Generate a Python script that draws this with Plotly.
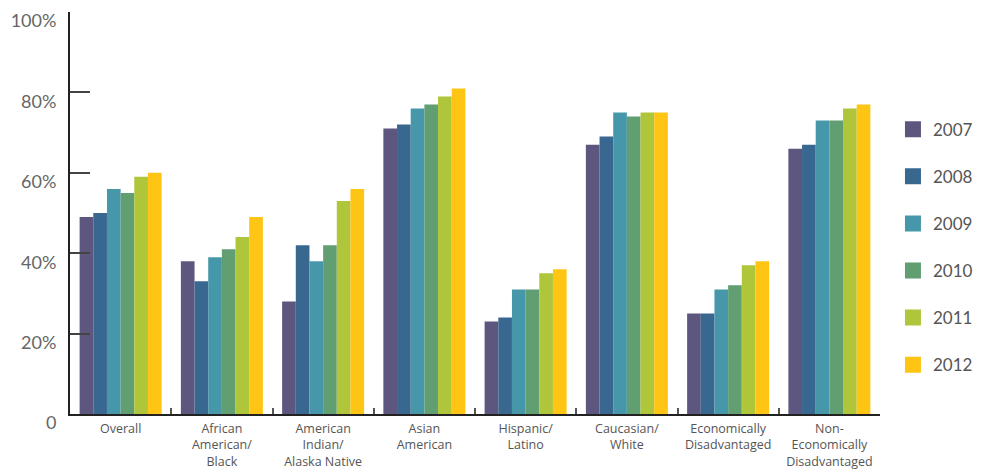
import plotly.graph_objects as go

categories = [
    "Overall",
    "African<br>American/<br>Black",
    "American<br>Indian/<br>Alaska Native",
    "Asian<br>American",
    "Hispanic/<br>Latino",
    "Caucasian/<br>White",
    "Economically<br>Disadvantaged",
    "Non-<br>Economically<br>Disadvantaged",
]

years = ["2007", "2008", "2009", "2010", "2011", "2012"]

v2007 = [49, 38, 28, 71, 23, 67, 25, 66]
v2008 = [50, 33, 42, 72, 24, 69, 25, 67]
v2009 = [56, 39, 38, 76, 31, 75, 31, 73]
v2010 = [55, 41, 42, 77, 31, 74, 32, 73]
v2011 = [59, 44, 53, 79, 35, 75, 37, 76]
v2012 = [60, 49, 56, 81, 36, 75, 38, 77]

series = [v2007, v2008, v2009, v2010, v2011, v2012]
colors = ["#5D577F", "#38678F", "#4797AA", "#619E72", "#AFC63A", "#FEC514"]

y_ticks = [0, 20, 40, 60, 80, 100]
y_tick_text = ["0", "20%", "40%", "60%", "80%", "100%"]

FONT = "Lato, 'Open Sans', sans-serif"
XFONT = "'Open Sans', Lato, sans-serif"
TEXT = "#555555"

fig = go.Figure()

for year, vals, col in zip(years, series, colors):
    fig.add_trace(go.Bar(
        x=categories, y=vals, name=year,
        marker=dict(color=col, line=dict(width=0)),
        showlegend=False,
        hovertemplate="%{y}%<extra>" + year + "</extra>",
    ))

# Legend entries with larger square swatches
for year, col in zip(years, colors):
    fig.add_trace(go.Scatter(
        x=[None], y=[None], mode="markers", name=year,
        legendgroup=year,
        marker=dict(symbol="square", size=16, color=col),
    ))

fig.update_layout(
    width=992, height=470,
    margin=dict(l=70, r=112, t=12, b=56),
    paper_bgcolor="white", plot_bgcolor="white",
    barmode="group", bargap=0.19, bargroupgap=0,
    font=dict(family=FONT, color=TEXT),
    legend=dict(
        x=1.016, xanchor="left", y=0.415, yanchor="middle",
        font=dict(size=17, color=TEXT, family=FONT),
        tracegroupgap=22, itemsizing="trace",
        bgcolor="rgba(0,0,0,0)",
    ),
    xaxis=dict(
        type="category", automargin=False,
        showline=True, linecolor="#222", linewidth=2,
        ticks="inside", tickson="boundaries", ticklen=6, tickwidth=2,
        tickcolor="#555",
        tickfont=dict(size=12.5, color=TEXT, family=XFONT),
        ticklabelstandoff=2,
        showgrid=False, zeroline=False,
    ),
    yaxis=dict(
        range=[0, 100], automargin=False,
        tickvals=y_ticks, ticktext=y_tick_text,
        showline=True, linecolor="#222", linewidth=2,
        ticks="inside", ticklen=20, tickwidth=2, tickcolor="#444",
        tickfont=dict(size=18, color="#666", family=FONT),
        ticklabelstandoff=8, ticklabelshift=9,
        showgrid=False, zeroline=False,
    ),
)

fig.write_html("out.html")
